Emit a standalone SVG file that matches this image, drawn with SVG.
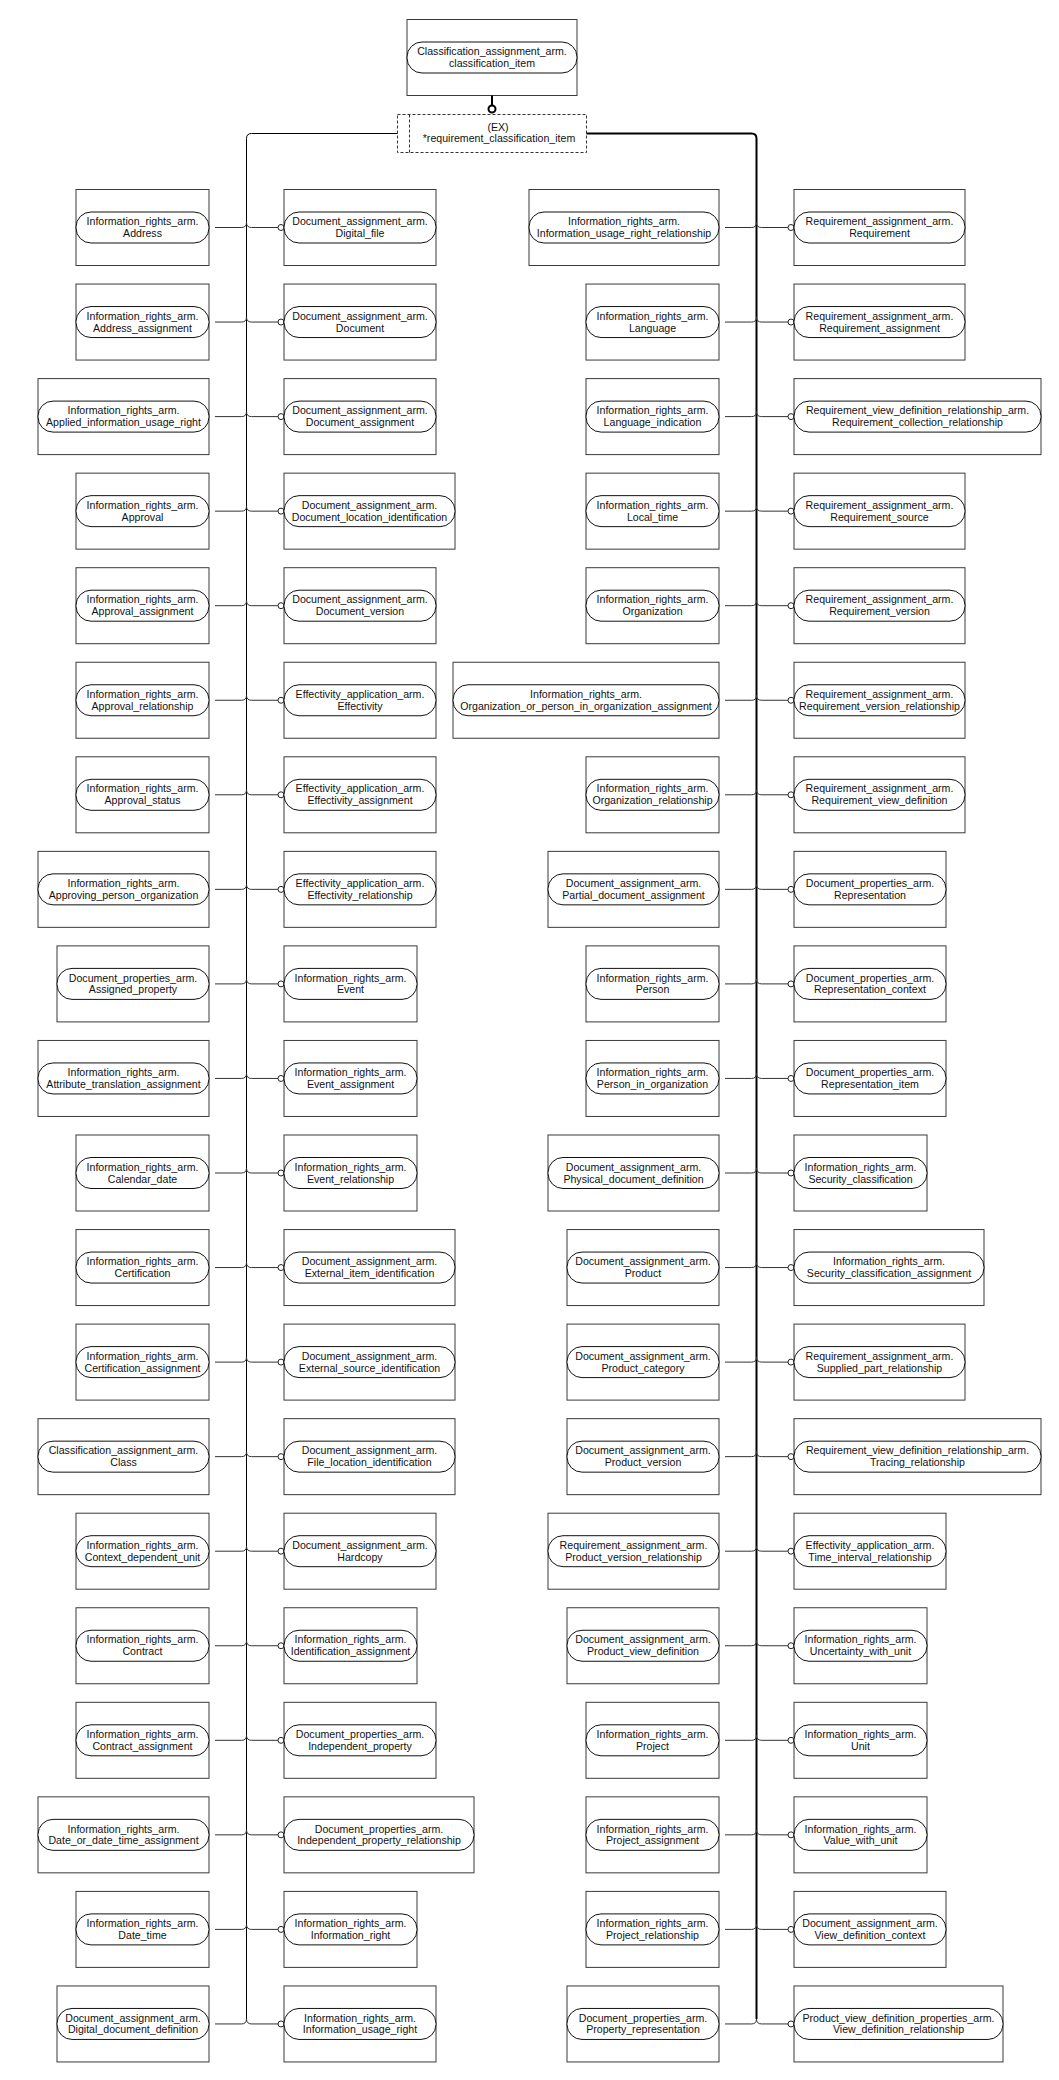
<svg xmlns="http://www.w3.org/2000/svg" width="1059" height="2080" viewBox="0 0 1059 2080">
<style>
.box{fill:#fff;stroke:#3a3a3a;stroke-width:1}
.pill{fill:#fff;stroke:#111;stroke-width:1}
text{font-family:"Liberation Sans",Arial,sans-serif;font-size:10.6px;fill:#111;text-anchor:middle}
.wire{fill:none;stroke:#333;stroke-width:1}
.bus{fill:none;stroke:#000;stroke-width:1}
.busR{fill:none;stroke:#000;stroke-width:2}
.sel{fill:#fff;stroke:#333;stroke-width:1;stroke-dasharray:3 2}
</style>
<defs>
<marker id="oc" viewBox="0 0 8 8" refX="1" refY="4" markerWidth="8" markerHeight="8" markerUnits="userSpaceOnUse" orient="auto">
<circle cx="4" cy="4" r="3" fill="#fff" stroke="#222" stroke-width="1"/>
</marker>
</defs>
<rect width="1059" height="2080" fill="#fff"/>

<!-- supertype select and its extension -->
<g id="top-select">
<rect class="box" x="407" y="19.5" width="170" height="76"/>
<rect class="pill" x="407" y="42" width="170" height="31" rx="15"/>
<text x="492" y="55.3">Classification_assignment_arm.</text>
<text x="492" y="67">classification_item</text>
</g>
<g id="ext-select">
<rect class="sel" x="397.5" y="114.5" width="189" height="38"/>
<line class="sel" x1="409.5" y1="114.5" x2="409.5" y2="152.5"/>
<text x="498" y="130.5">(EX)</text>
<text x="499" y="142.2">*requirement_classification_item</text>
</g>

<g id="connectors">
<line x1="492" y1="95.5" x2="492" y2="105" stroke="#000" stroke-width="2"/>
<circle cx="492" cy="109" r="3.5" fill="#fff" stroke="#000" stroke-width="2"/>
<path class="bus" d="M397.5 133.5H251.5Q246.5 133.5 246.5 138.5V2018.95"/>
<path class="busR" d="M586.5 133.5H751.5Q756.5 133.5 756.5 138.5V2018.95"/>
<g class="wire" marker-end="url(#oc)">
<path d="M246.5 222.5Q246.5 227.5 241.5 227.5H215M246.5 222.5Q246.5 227.5 251.5 227.5H278"/>
<path d="M246.5 317.05Q246.5 322.05 241.5 322.05H215M246.5 317.05Q246.5 322.05 251.5 322.05H278"/>
<path d="M246.5 411.6Q246.5 416.6 241.5 416.6H215M246.5 411.6Q246.5 416.6 251.5 416.6H278"/>
<path d="M246.5 506.15Q246.5 511.15 241.5 511.15H215M246.5 506.15Q246.5 511.15 251.5 511.15H278"/>
<path d="M246.5 600.7Q246.5 605.7 241.5 605.7H215M246.5 600.7Q246.5 605.7 251.5 605.7H278"/>
<path d="M246.5 695.25Q246.5 700.25 241.5 700.25H215M246.5 695.25Q246.5 700.25 251.5 700.25H278"/>
<path d="M246.5 789.8Q246.5 794.8 241.5 794.8H215M246.5 789.8Q246.5 794.8 251.5 794.8H278"/>
<path d="M246.5 884.35Q246.5 889.35 241.5 889.35H215M246.5 884.35Q246.5 889.35 251.5 889.35H278"/>
<path d="M246.5 978.9Q246.5 983.9 241.5 983.9H215M246.5 978.9Q246.5 983.9 251.5 983.9H278"/>
<path d="M246.5 1073.45Q246.5 1078.45 241.5 1078.45H215M246.5 1073.45Q246.5 1078.45 251.5 1078.45H278"/>
<path d="M246.5 1168Q246.5 1173 241.5 1173H215M246.5 1168Q246.5 1173 251.5 1173H278"/>
<path d="M246.5 1262.55Q246.5 1267.55 241.5 1267.55H215M246.5 1262.55Q246.5 1267.55 251.5 1267.55H278"/>
<path d="M246.5 1357.1Q246.5 1362.1 241.5 1362.1H215M246.5 1357.1Q246.5 1362.1 251.5 1362.1H278"/>
<path d="M246.5 1451.65Q246.5 1456.65 241.5 1456.65H215M246.5 1451.65Q246.5 1456.65 251.5 1456.65H278"/>
<path d="M246.5 1546.2Q246.5 1551.2 241.5 1551.2H215M246.5 1546.2Q246.5 1551.2 251.5 1551.2H278"/>
<path d="M246.5 1640.75Q246.5 1645.75 241.5 1645.75H215M246.5 1640.75Q246.5 1645.75 251.5 1645.75H278"/>
<path d="M246.5 1735.3Q246.5 1740.3 241.5 1740.3H215M246.5 1735.3Q246.5 1740.3 251.5 1740.3H278"/>
<path d="M246.5 1829.85Q246.5 1834.85 241.5 1834.85H215M246.5 1829.85Q246.5 1834.85 251.5 1834.85H278"/>
<path d="M246.5 1924.4Q246.5 1929.4 241.5 1929.4H215M246.5 1924.4Q246.5 1929.4 251.5 1929.4H278"/>
<path d="M246.5 2018.95Q246.5 2023.95 241.5 2023.95H215M246.5 2018.95Q246.5 2023.95 251.5 2023.95H278"/>
<path d="M756.5 222.5Q756.5 227.5 751.5 227.5H725M756.5 222.5Q756.5 227.5 761.5 227.5H788"/>
<path d="M756.5 317.05Q756.5 322.05 751.5 322.05H725M756.5 317.05Q756.5 322.05 761.5 322.05H788"/>
<path d="M756.5 411.6Q756.5 416.6 751.5 416.6H725M756.5 411.6Q756.5 416.6 761.5 416.6H788"/>
<path d="M756.5 506.15Q756.5 511.15 751.5 511.15H725M756.5 506.15Q756.5 511.15 761.5 511.15H788"/>
<path d="M756.5 600.7Q756.5 605.7 751.5 605.7H725M756.5 600.7Q756.5 605.7 761.5 605.7H788"/>
<path d="M756.5 695.25Q756.5 700.25 751.5 700.25H725M756.5 695.25Q756.5 700.25 761.5 700.25H788"/>
<path d="M756.5 789.8Q756.5 794.8 751.5 794.8H725M756.5 789.8Q756.5 794.8 761.5 794.8H788"/>
<path d="M756.5 884.35Q756.5 889.35 751.5 889.35H725M756.5 884.35Q756.5 889.35 761.5 889.35H788"/>
<path d="M756.5 978.9Q756.5 983.9 751.5 983.9H725M756.5 978.9Q756.5 983.9 761.5 983.9H788"/>
<path d="M756.5 1073.45Q756.5 1078.45 751.5 1078.45H725M756.5 1073.45Q756.5 1078.45 761.5 1078.45H788"/>
<path d="M756.5 1168Q756.5 1173 751.5 1173H725M756.5 1168Q756.5 1173 761.5 1173H788"/>
<path d="M756.5 1262.55Q756.5 1267.55 751.5 1267.55H725M756.5 1262.55Q756.5 1267.55 761.5 1267.55H788"/>
<path d="M756.5 1357.1Q756.5 1362.1 751.5 1362.1H725M756.5 1357.1Q756.5 1362.1 761.5 1362.1H788"/>
<path d="M756.5 1451.65Q756.5 1456.65 751.5 1456.65H725M756.5 1451.65Q756.5 1456.65 761.5 1456.65H788"/>
<path d="M756.5 1546.2Q756.5 1551.2 751.5 1551.2H725M756.5 1546.2Q756.5 1551.2 761.5 1551.2H788"/>
<path d="M756.5 1640.75Q756.5 1645.75 751.5 1645.75H725M756.5 1640.75Q756.5 1645.75 761.5 1645.75H788"/>
<path d="M756.5 1735.3Q756.5 1740.3 751.5 1740.3H725M756.5 1735.3Q756.5 1740.3 761.5 1740.3H788"/>
<path d="M756.5 1829.85Q756.5 1834.85 751.5 1834.85H725M756.5 1829.85Q756.5 1834.85 761.5 1834.85H788"/>
<path d="M756.5 1924.4Q756.5 1929.4 751.5 1929.4H725M756.5 1924.4Q756.5 1929.4 761.5 1929.4H788"/>
<path d="M756.5 2018.95Q756.5 2023.95 751.5 2023.95H725M756.5 2018.95Q756.5 2023.95 761.5 2023.95H788"/>
</g>
</g>

<!-- column 1: left of the left bus -->
<g id="n-address" transform="translate(76 189.5)"><rect class="box" width="133" height="76"/><rect class="pill" y="22.5" width="133" height="31" rx="15"/><text x="66.5" y="35.7">Information_rights_arm.</text><text x="66.5" y="47.5">Address</text></g>
<g id="n-address_assignment" transform="translate(76 284.05)"><rect class="box" width="133" height="76"/><rect class="pill" y="22.5" width="133" height="31" rx="15"/><text x="66.5" y="35.7">Information_rights_arm.</text><text x="66.5" y="47.5">Address_assignment</text></g>
<g id="n-applied_information_usage_right" transform="translate(38 378.6)"><rect class="box" width="171" height="76"/><rect class="pill" y="22.5" width="171" height="31" rx="15"/><text x="85.5" y="35.7">Information_rights_arm.</text><text x="85.5" y="47.5">Applied_information_usage_right</text></g>
<g id="n-approval" transform="translate(76 473.15)"><rect class="box" width="133" height="76"/><rect class="pill" y="22.5" width="133" height="31" rx="15"/><text x="66.5" y="35.7">Information_rights_arm.</text><text x="66.5" y="47.5">Approval</text></g>
<g id="n-approval_assignment" transform="translate(76 567.7)"><rect class="box" width="133" height="76"/><rect class="pill" y="22.5" width="133" height="31" rx="15"/><text x="66.5" y="35.7">Information_rights_arm.</text><text x="66.5" y="47.5">Approval_assignment</text></g>
<g id="n-approval_relationship" transform="translate(76 662.25)"><rect class="box" width="133" height="76"/><rect class="pill" y="22.5" width="133" height="31" rx="15"/><text x="66.5" y="35.7">Information_rights_arm.</text><text x="66.5" y="47.5">Approval_relationship</text></g>
<g id="n-approval_status" transform="translate(76 756.8)"><rect class="box" width="133" height="76"/><rect class="pill" y="22.5" width="133" height="31" rx="15"/><text x="66.5" y="35.7">Information_rights_arm.</text><text x="66.5" y="47.5">Approval_status</text></g>
<g id="n-approving_person_organization" transform="translate(38 851.35)"><rect class="box" width="171" height="76"/><rect class="pill" y="22.5" width="171" height="31" rx="15"/><text x="85.5" y="35.7">Information_rights_arm.</text><text x="85.5" y="47.5">Approving_person_organization</text></g>
<g id="n-assigned_property" transform="translate(57 945.9)"><rect class="box" width="152" height="76"/><rect class="pill" y="22.5" width="152" height="31" rx="15"/><text x="76" y="35.7">Document_properties_arm.</text><text x="76" y="47.5">Assigned_property</text></g>
<g id="n-attribute_translation_assignment" transform="translate(38 1040.45)"><rect class="box" width="171" height="76"/><rect class="pill" y="22.5" width="171" height="31" rx="15"/><text x="85.5" y="35.7">Information_rights_arm.</text><text x="85.5" y="47.5">Attribute_translation_assignment</text></g>
<g id="n-calendar_date" transform="translate(76 1135)"><rect class="box" width="133" height="76"/><rect class="pill" y="22.5" width="133" height="31" rx="15"/><text x="66.5" y="35.7">Information_rights_arm.</text><text x="66.5" y="47.5">Calendar_date</text></g>
<g id="n-certification" transform="translate(76 1229.55)"><rect class="box" width="133" height="76"/><rect class="pill" y="22.5" width="133" height="31" rx="15"/><text x="66.5" y="35.7">Information_rights_arm.</text><text x="66.5" y="47.5">Certification</text></g>
<g id="n-certification_assignment" transform="translate(76 1324.1)"><rect class="box" width="133" height="76"/><rect class="pill" y="22.5" width="133" height="31" rx="15"/><text x="66.5" y="35.7">Information_rights_arm.</text><text x="66.5" y="47.5">Certification_assignment</text></g>
<g id="n-class" transform="translate(38 1418.65)"><rect class="box" width="171" height="76"/><rect class="pill" y="22.5" width="171" height="31" rx="15"/><text x="85.5" y="35.7">Classification_assignment_arm.</text><text x="85.5" y="47.5">Class</text></g>
<g id="n-context_dependent_unit" transform="translate(76 1513.2)"><rect class="box" width="133" height="76"/><rect class="pill" y="22.5" width="133" height="31" rx="15"/><text x="66.5" y="35.7">Information_rights_arm.</text><text x="66.5" y="47.5">Context_dependent_unit</text></g>
<g id="n-contract" transform="translate(76 1607.75)"><rect class="box" width="133" height="76"/><rect class="pill" y="22.5" width="133" height="31" rx="15"/><text x="66.5" y="35.7">Information_rights_arm.</text><text x="66.5" y="47.5">Contract</text></g>
<g id="n-contract_assignment" transform="translate(76 1702.3)"><rect class="box" width="133" height="76"/><rect class="pill" y="22.5" width="133" height="31" rx="15"/><text x="66.5" y="35.7">Information_rights_arm.</text><text x="66.5" y="47.5">Contract_assignment</text></g>
<g id="n-date_or_date_time_assignment" transform="translate(38 1796.85)"><rect class="box" width="171" height="76"/><rect class="pill" y="22.5" width="171" height="31" rx="15"/><text x="85.5" y="35.7">Information_rights_arm.</text><text x="85.5" y="47.5">Date_or_date_time_assignment</text></g>
<g id="n-date_time" transform="translate(76 1891.4)"><rect class="box" width="133" height="76"/><rect class="pill" y="22.5" width="133" height="31" rx="15"/><text x="66.5" y="35.7">Information_rights_arm.</text><text x="66.5" y="47.5">Date_time</text></g>
<g id="n-digital_document_definition" transform="translate(57 1985.95)"><rect class="box" width="152" height="76"/><rect class="pill" y="22.5" width="152" height="31" rx="15"/><text x="76" y="35.7">Document_assignment_arm.</text><text x="76" y="47.5">Digital_document_definition</text></g>

<!-- column 2: right of the left bus -->
<g id="n-digital_file" transform="translate(284 189.5)"><rect class="box" width="152" height="76"/><rect class="pill" y="22.5" width="152" height="31" rx="15"/><text x="76" y="35.7">Document_assignment_arm.</text><text x="76" y="47.5">Digital_file</text></g>
<g id="n-document" transform="translate(284 284.05)"><rect class="box" width="152" height="76"/><rect class="pill" y="22.5" width="152" height="31" rx="15"/><text x="76" y="35.7">Document_assignment_arm.</text><text x="76" y="47.5">Document</text></g>
<g id="n-document_assignment" transform="translate(284 378.6)"><rect class="box" width="152" height="76"/><rect class="pill" y="22.5" width="152" height="31" rx="15"/><text x="76" y="35.7">Document_assignment_arm.</text><text x="76" y="47.5">Document_assignment</text></g>
<g id="n-document_location_identification" transform="translate(284 473.15)"><rect class="box" width="171" height="76"/><rect class="pill" y="22.5" width="171" height="31" rx="15"/><text x="85.5" y="35.7">Document_assignment_arm.</text><text x="85.5" y="47.5">Document_location_identification</text></g>
<g id="n-document_version" transform="translate(284 567.7)"><rect class="box" width="152" height="76"/><rect class="pill" y="22.5" width="152" height="31" rx="15"/><text x="76" y="35.7">Document_assignment_arm.</text><text x="76" y="47.5">Document_version</text></g>
<g id="n-effectivity" transform="translate(284 662.25)"><rect class="box" width="152" height="76"/><rect class="pill" y="22.5" width="152" height="31" rx="15"/><text x="76" y="35.7">Effectivity_application_arm.</text><text x="76" y="47.5">Effectivity</text></g>
<g id="n-effectivity_assignment" transform="translate(284 756.8)"><rect class="box" width="152" height="76"/><rect class="pill" y="22.5" width="152" height="31" rx="15"/><text x="76" y="35.7">Effectivity_application_arm.</text><text x="76" y="47.5">Effectivity_assignment</text></g>
<g id="n-effectivity_relationship" transform="translate(284 851.35)"><rect class="box" width="152" height="76"/><rect class="pill" y="22.5" width="152" height="31" rx="15"/><text x="76" y="35.7">Effectivity_application_arm.</text><text x="76" y="47.5">Effectivity_relationship</text></g>
<g id="n-event" transform="translate(284 945.9)"><rect class="box" width="133" height="76"/><rect class="pill" y="22.5" width="133" height="31" rx="15"/><text x="66.5" y="35.7">Information_rights_arm.</text><text x="66.5" y="47.5">Event</text></g>
<g id="n-event_assignment" transform="translate(284 1040.45)"><rect class="box" width="133" height="76"/><rect class="pill" y="22.5" width="133" height="31" rx="15"/><text x="66.5" y="35.7">Information_rights_arm.</text><text x="66.5" y="47.5">Event_assignment</text></g>
<g id="n-event_relationship" transform="translate(284 1135)"><rect class="box" width="133" height="76"/><rect class="pill" y="22.5" width="133" height="31" rx="15"/><text x="66.5" y="35.7">Information_rights_arm.</text><text x="66.5" y="47.5">Event_relationship</text></g>
<g id="n-external_item_identification" transform="translate(284 1229.55)"><rect class="box" width="171" height="76"/><rect class="pill" y="22.5" width="171" height="31" rx="15"/><text x="85.5" y="35.7">Document_assignment_arm.</text><text x="85.5" y="47.5">External_item_identification</text></g>
<g id="n-external_source_identification" transform="translate(284 1324.1)"><rect class="box" width="171" height="76"/><rect class="pill" y="22.5" width="171" height="31" rx="15"/><text x="85.5" y="35.7">Document_assignment_arm.</text><text x="85.5" y="47.5">External_source_identification</text></g>
<g id="n-file_location_identification" transform="translate(284 1418.65)"><rect class="box" width="171" height="76"/><rect class="pill" y="22.5" width="171" height="31" rx="15"/><text x="85.5" y="35.7">Document_assignment_arm.</text><text x="85.5" y="47.5">File_location_identification</text></g>
<g id="n-hardcopy" transform="translate(284 1513.2)"><rect class="box" width="152" height="76"/><rect class="pill" y="22.5" width="152" height="31" rx="15"/><text x="76" y="35.7">Document_assignment_arm.</text><text x="76" y="47.5">Hardcopy</text></g>
<g id="n-identification_assignment" transform="translate(284 1607.75)"><rect class="box" width="133" height="76"/><rect class="pill" y="22.5" width="133" height="31" rx="15"/><text x="66.5" y="35.7">Information_rights_arm.</text><text x="66.5" y="47.5">Identification_assignment</text></g>
<g id="n-independent_property" transform="translate(284 1702.3)"><rect class="box" width="152" height="76"/><rect class="pill" y="22.5" width="152" height="31" rx="15"/><text x="76" y="35.7">Document_properties_arm.</text><text x="76" y="47.5">Independent_property</text></g>
<g id="n-independent_property_relationship" transform="translate(284 1796.85)"><rect class="box" width="190" height="76"/><rect class="pill" y="22.5" width="190" height="31" rx="15"/><text x="95" y="35.7">Document_properties_arm.</text><text x="95" y="47.5">Independent_property_relationship</text></g>
<g id="n-information_right" transform="translate(284 1891.4)"><rect class="box" width="133" height="76"/><rect class="pill" y="22.5" width="133" height="31" rx="15"/><text x="66.5" y="35.7">Information_rights_arm.</text><text x="66.5" y="47.5">Information_right</text></g>
<g id="n-information_usage_right" transform="translate(284 1985.95)"><rect class="box" width="152" height="76"/><rect class="pill" y="22.5" width="152" height="31" rx="15"/><text x="76" y="35.7">Information_rights_arm.</text><text x="76" y="47.5">Information_usage_right</text></g>

<!-- column 3: left of the right bus -->
<g id="n-information_usage_right_relationship" transform="translate(529 189.5)"><rect class="box" width="190" height="76"/><rect class="pill" y="22.5" width="190" height="31" rx="15"/><text x="95" y="35.7">Information_rights_arm.</text><text x="95" y="47.5">Information_usage_right_relationship</text></g>
<g id="n-language" transform="translate(586 284.05)"><rect class="box" width="133" height="76"/><rect class="pill" y="22.5" width="133" height="31" rx="15"/><text x="66.5" y="35.7">Information_rights_arm.</text><text x="66.5" y="47.5">Language</text></g>
<g id="n-language_indication" transform="translate(586 378.6)"><rect class="box" width="133" height="76"/><rect class="pill" y="22.5" width="133" height="31" rx="15"/><text x="66.5" y="35.7">Information_rights_arm.</text><text x="66.5" y="47.5">Language_indication</text></g>
<g id="n-local_time" transform="translate(586 473.15)"><rect class="box" width="133" height="76"/><rect class="pill" y="22.5" width="133" height="31" rx="15"/><text x="66.5" y="35.7">Information_rights_arm.</text><text x="66.5" y="47.5">Local_time</text></g>
<g id="n-organization" transform="translate(586 567.7)"><rect class="box" width="133" height="76"/><rect class="pill" y="22.5" width="133" height="31" rx="15"/><text x="66.5" y="35.7">Information_rights_arm.</text><text x="66.5" y="47.5">Organization</text></g>
<g id="n-organization_or_person_in_organization_assignment" transform="translate(453 662.25)"><rect class="box" width="266" height="76"/><rect class="pill" y="22.5" width="266" height="31" rx="15"/><text x="133" y="35.7">Information_rights_arm.</text><text x="133" y="47.5">Organization_or_person_in_organization_assignment</text></g>
<g id="n-organization_relationship" transform="translate(586 756.8)"><rect class="box" width="133" height="76"/><rect class="pill" y="22.5" width="133" height="31" rx="15"/><text x="66.5" y="35.7">Information_rights_arm.</text><text x="66.5" y="47.5">Organization_relationship</text></g>
<g id="n-partial_document_assignment" transform="translate(548 851.35)"><rect class="box" width="171" height="76"/><rect class="pill" y="22.5" width="171" height="31" rx="15"/><text x="85.5" y="35.7">Document_assignment_arm.</text><text x="85.5" y="47.5">Partial_document_assignment</text></g>
<g id="n-person" transform="translate(586 945.9)"><rect class="box" width="133" height="76"/><rect class="pill" y="22.5" width="133" height="31" rx="15"/><text x="66.5" y="35.7">Information_rights_arm.</text><text x="66.5" y="47.5">Person</text></g>
<g id="n-person_in_organization" transform="translate(586 1040.45)"><rect class="box" width="133" height="76"/><rect class="pill" y="22.5" width="133" height="31" rx="15"/><text x="66.5" y="35.7">Information_rights_arm.</text><text x="66.5" y="47.5">Person_in_organization</text></g>
<g id="n-physical_document_definition" transform="translate(548 1135)"><rect class="box" width="171" height="76"/><rect class="pill" y="22.5" width="171" height="31" rx="15"/><text x="85.5" y="35.7">Document_assignment_arm.</text><text x="85.5" y="47.5">Physical_document_definition</text></g>
<g id="n-product" transform="translate(567 1229.55)"><rect class="box" width="152" height="76"/><rect class="pill" y="22.5" width="152" height="31" rx="15"/><text x="76" y="35.7">Document_assignment_arm.</text><text x="76" y="47.5">Product</text></g>
<g id="n-product_category" transform="translate(567 1324.1)"><rect class="box" width="152" height="76"/><rect class="pill" y="22.5" width="152" height="31" rx="15"/><text x="76" y="35.7">Document_assignment_arm.</text><text x="76" y="47.5">Product_category</text></g>
<g id="n-product_version" transform="translate(567 1418.65)"><rect class="box" width="152" height="76"/><rect class="pill" y="22.5" width="152" height="31" rx="15"/><text x="76" y="35.7">Document_assignment_arm.</text><text x="76" y="47.5">Product_version</text></g>
<g id="n-product_version_relationship" transform="translate(548 1513.2)"><rect class="box" width="171" height="76"/><rect class="pill" y="22.5" width="171" height="31" rx="15"/><text x="85.5" y="35.7">Requirement_assignment_arm.</text><text x="85.5" y="47.5">Product_version_relationship</text></g>
<g id="n-product_view_definition" transform="translate(567 1607.75)"><rect class="box" width="152" height="76"/><rect class="pill" y="22.5" width="152" height="31" rx="15"/><text x="76" y="35.7">Document_assignment_arm.</text><text x="76" y="47.5">Product_view_definition</text></g>
<g id="n-project" transform="translate(586 1702.3)"><rect class="box" width="133" height="76"/><rect class="pill" y="22.5" width="133" height="31" rx="15"/><text x="66.5" y="35.7">Information_rights_arm.</text><text x="66.5" y="47.5">Project</text></g>
<g id="n-project_assignment" transform="translate(586 1796.85)"><rect class="box" width="133" height="76"/><rect class="pill" y="22.5" width="133" height="31" rx="15"/><text x="66.5" y="35.7">Information_rights_arm.</text><text x="66.5" y="47.5">Project_assignment</text></g>
<g id="n-project_relationship" transform="translate(586 1891.4)"><rect class="box" width="133" height="76"/><rect class="pill" y="22.5" width="133" height="31" rx="15"/><text x="66.5" y="35.7">Information_rights_arm.</text><text x="66.5" y="47.5">Project_relationship</text></g>
<g id="n-property_representation" transform="translate(567 1985.95)"><rect class="box" width="152" height="76"/><rect class="pill" y="22.5" width="152" height="31" rx="15"/><text x="76" y="35.7">Document_properties_arm.</text><text x="76" y="47.5">Property_representation</text></g>

<!-- column 4: right of the right bus -->
<g id="n-requirement" transform="translate(794 189.5)"><rect class="box" width="171" height="76"/><rect class="pill" y="22.5" width="171" height="31" rx="15"/><text x="85.5" y="35.7">Requirement_assignment_arm.</text><text x="85.5" y="47.5">Requirement</text></g>
<g id="n-requirement_assignment" transform="translate(794 284.05)"><rect class="box" width="171" height="76"/><rect class="pill" y="22.5" width="171" height="31" rx="15"/><text x="85.5" y="35.7">Requirement_assignment_arm.</text><text x="85.5" y="47.5">Requirement_assignment</text></g>
<g id="n-requirement_collection_relationship" transform="translate(794 378.6)"><rect class="box" width="247" height="76"/><rect class="pill" y="22.5" width="247" height="31" rx="15"/><text x="123.5" y="35.7">Requirement_view_definition_relationship_arm.</text><text x="123.5" y="47.5">Requirement_collection_relationship</text></g>
<g id="n-requirement_source" transform="translate(794 473.15)"><rect class="box" width="171" height="76"/><rect class="pill" y="22.5" width="171" height="31" rx="15"/><text x="85.5" y="35.7">Requirement_assignment_arm.</text><text x="85.5" y="47.5">Requirement_source</text></g>
<g id="n-requirement_version" transform="translate(794 567.7)"><rect class="box" width="171" height="76"/><rect class="pill" y="22.5" width="171" height="31" rx="15"/><text x="85.5" y="35.7">Requirement_assignment_arm.</text><text x="85.5" y="47.5">Requirement_version</text></g>
<g id="n-requirement_version_relationship" transform="translate(794 662.25)"><rect class="box" width="171" height="76"/><rect class="pill" y="22.5" width="171" height="31" rx="15"/><text x="85.5" y="35.7">Requirement_assignment_arm.</text><text x="85.5" y="47.5">Requirement_version_relationship</text></g>
<g id="n-requirement_view_definition" transform="translate(794 756.8)"><rect class="box" width="171" height="76"/><rect class="pill" y="22.5" width="171" height="31" rx="15"/><text x="85.5" y="35.7">Requirement_assignment_arm.</text><text x="85.5" y="47.5">Requirement_view_definition</text></g>
<g id="n-representation" transform="translate(794 851.35)"><rect class="box" width="152" height="76"/><rect class="pill" y="22.5" width="152" height="31" rx="15"/><text x="76" y="35.7">Document_properties_arm.</text><text x="76" y="47.5">Representation</text></g>
<g id="n-representation_context" transform="translate(794 945.9)"><rect class="box" width="152" height="76"/><rect class="pill" y="22.5" width="152" height="31" rx="15"/><text x="76" y="35.7">Document_properties_arm.</text><text x="76" y="47.5">Representation_context</text></g>
<g id="n-representation_item" transform="translate(794 1040.45)"><rect class="box" width="152" height="76"/><rect class="pill" y="22.5" width="152" height="31" rx="15"/><text x="76" y="35.7">Document_properties_arm.</text><text x="76" y="47.5">Representation_item</text></g>
<g id="n-security_classification" transform="translate(794 1135)"><rect class="box" width="133" height="76"/><rect class="pill" y="22.5" width="133" height="31" rx="15"/><text x="66.5" y="35.7">Information_rights_arm.</text><text x="66.5" y="47.5">Security_classification</text></g>
<g id="n-security_classification_assignment" transform="translate(794 1229.55)"><rect class="box" width="190" height="76"/><rect class="pill" y="22.5" width="190" height="31" rx="15"/><text x="95" y="35.7">Information_rights_arm.</text><text x="95" y="47.5">Security_classification_assignment</text></g>
<g id="n-supplied_part_relationship" transform="translate(794 1324.1)"><rect class="box" width="171" height="76"/><rect class="pill" y="22.5" width="171" height="31" rx="15"/><text x="85.5" y="35.7">Requirement_assignment_arm.</text><text x="85.5" y="47.5">Supplied_part_relationship</text></g>
<g id="n-tracing_relationship" transform="translate(794 1418.65)"><rect class="box" width="247" height="76"/><rect class="pill" y="22.5" width="247" height="31" rx="15"/><text x="123.5" y="35.7">Requirement_view_definition_relationship_arm.</text><text x="123.5" y="47.5">Tracing_relationship</text></g>
<g id="n-time_interval_relationship" transform="translate(794 1513.2)"><rect class="box" width="152" height="76"/><rect class="pill" y="22.5" width="152" height="31" rx="15"/><text x="76" y="35.7">Effectivity_application_arm.</text><text x="76" y="47.5">Time_interval_relationship</text></g>
<g id="n-uncertainty_with_unit" transform="translate(794 1607.75)"><rect class="box" width="133" height="76"/><rect class="pill" y="22.5" width="133" height="31" rx="15"/><text x="66.5" y="35.7">Information_rights_arm.</text><text x="66.5" y="47.5">Uncertainty_with_unit</text></g>
<g id="n-unit" transform="translate(794 1702.3)"><rect class="box" width="133" height="76"/><rect class="pill" y="22.5" width="133" height="31" rx="15"/><text x="66.5" y="35.7">Information_rights_arm.</text><text x="66.5" y="47.5">Unit</text></g>
<g id="n-value_with_unit" transform="translate(794 1796.85)"><rect class="box" width="133" height="76"/><rect class="pill" y="22.5" width="133" height="31" rx="15"/><text x="66.5" y="35.7">Information_rights_arm.</text><text x="66.5" y="47.5">Value_with_unit</text></g>
<g id="n-view_definition_context" transform="translate(794 1891.4)"><rect class="box" width="152" height="76"/><rect class="pill" y="22.5" width="152" height="31" rx="15"/><text x="76" y="35.7">Document_assignment_arm.</text><text x="76" y="47.5">View_definition_context</text></g>
<g id="n-view_definition_relationship" transform="translate(794 1985.95)"><rect class="box" width="209" height="76"/><rect class="pill" y="22.5" width="209" height="31" rx="15"/><text x="104.5" y="35.7">Product_view_definition_properties_arm.</text><text x="104.5" y="47.5">View_definition_relationship</text></g>
</svg>
